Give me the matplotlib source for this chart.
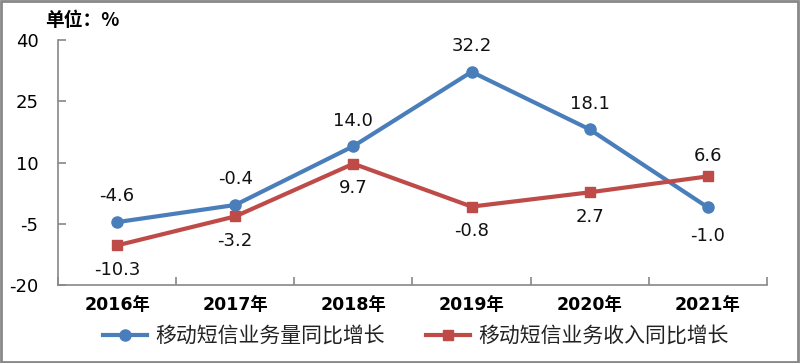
import matplotlib
matplotlib.use("Agg")
import matplotlib.pyplot as plt
from matplotlib.patches import Rectangle

plt.rcParams['font.family'] = ['DejaVu Sans', 'Noto Sans CJK SC']

years = ["2016年", "2017年", "2018年", "2019年", "2020年", "2021年"]
volume = [-4.6, -0.4, 14.0, 32.2, 18.1, -1.0]
revenue = [-10.3, -3.2, 9.7, -0.8, 2.7, 6.6]
yticks = [40, 25, 10, -5, -20]
name_vol = "移动短信业务量同比增长"
name_rev = "移动短信业务收入同比增长"

blue = "#4A7EBB"
red = "#BE4B48"

fig = plt.figure(figsize=(8, 3.63), dpi=100)
ax = fig.add_axes([58/800, 1-285/363, (767-58)/800, (285-40)/363])
x = list(range(len(years)))

ax.plot(x, volume, color=blue, lw=3, marker='o', ms=8, label=name_vol, zorder=3)
ax.plot(x, revenue, color=red, lw=3, marker='s', ms=7.5, label=name_rev, zorder=3)

ax.set_xlim(-0.5, len(years)-0.5)
ax.set_ylim(-20, 40)
ax.set_yticks(yticks)
ax.set_yticklabels([str(v) for v in yticks], fontsize=13)
ax.set_xticks(x)
ax.set_xticklabels(years, fontsize=12.5, fontweight='bold')
ax.set_xticks([i-0.5 for i in range(len(years)+1)], minor=True)
ax.tick_params(axis='x', which='major', length=0, pad=8)
ax.tick_params(axis='x', which='minor', direction='in', length=6, color='#888888', width=1.2)
ax.tick_params(axis='y', direction='in', length=6, color='#888888', width=1.2, pad=14)
for s in ['top', 'right']:
    ax.spines[s].set_visible(False)
for s in ['left', 'bottom']:
    ax.spines[s].set_color('#888888')
    ax.spines[s].set_linewidth(1.2)

# data labels
vol_above = [True, True, True, True, True, False]
rev_above = [False, False, False, False, False, True]
for i in x:
    dy = 12 if vol_above[i] else -14
    ax.annotate(f"{volume[i]:.1f}", (i, volume[i]), xytext=(0, dy), textcoords='offset points',
                ha='center', va='bottom' if vol_above[i] else 'top', fontsize=13, color='#111111')
    dy = 8 if rev_above[i] else -11
    ax.annotate(f"{revenue[i]:.1f}", (i, revenue[i]), xytext=(0, dy), textcoords='offset points',
                ha='center', va='bottom' if rev_above[i] else 'top', fontsize=13, color='#111111')

fig.text(45/800, 1-20/363, "单位：%", fontsize=13.5, fontweight='bold', va='center', ha='left',
         family=['Noto Sans CJK SC', 'DejaVu Sans'])

leg = fig.legend(loc='center', bbox_to_anchor=(0.52, 1-336/363), ncol=2, frameon=False,
                 handlelength=2.1, handletextpad=0.4, columnspacing=2.0,
                 prop={'family': ['Noto Sans CJK SC', 'DejaVu Sans'], 'size': 15})
for t in leg.get_texts():
    t.set_color('#222222')

fig.patches.append(Rectangle((0.001, 0.002), 0.997, 0.995, transform=fig.transFigure,
                             fill=False, edgecolor='#888888', lw=2))

fig.savefig("out.png", dpi=100)
